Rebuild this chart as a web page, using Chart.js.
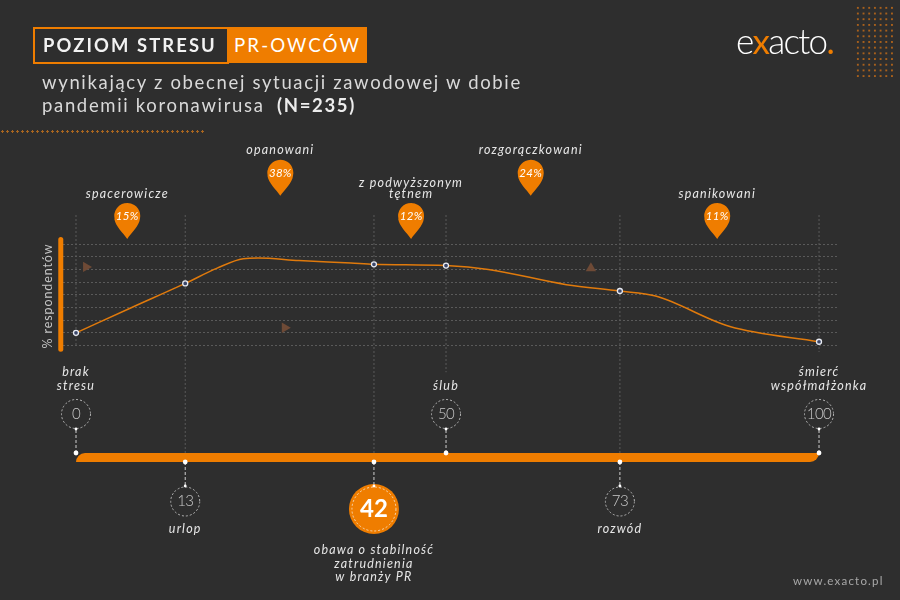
<!DOCTYPE html>
<html lang="pl">
<head>
<meta charset="utf-8">
<title>Poziom stresu PR-owców</title>
<script src="https://cdn.jsdelivr.net/npm/chart.js@4"></script>
<style>
  html, body { margin: 0; padding: 0; background: #2e2e2e; }
  #page { position: relative; width: 900px; height: 600px; overflow: hidden; background: #2e2e2e; font-family: Lato, sans-serif; }
  #chart { position: absolute; left: 0; top: 0; }
  #page div { position: absolute; white-space: nowrap; }
  #title-left { left: 33px; top: 27px; width: 192px; height: 33px; border: 2px solid #ef7d00; color: #f2f2f2; font-size: 18.4px; font-weight: 700; letter-spacing: 2.1px; line-height: 33px; text-indent: 8px; }
  #title-right { left: 227px; top: 27px; width: 140px; height: 36px; background: #ef7d00; color: #fff; font-size: 18.7px; font-weight: 400; letter-spacing: 2.1px; line-height: 37px; text-indent: 7px; }
  .sub { left: 42px; color: #d9d9d9; font-size: 18.5px; letter-spacing: 1.66px; line-height: 24px; }
  #sub1 { top: 70px; }
  #sub2 { top: 93px; }
  #sub2 b { font-weight: 700; color: #ececec; margin-left: 6px; }
  #rule { left: 0; top: 130px; width: 204px; height: 3px; background-image: radial-gradient(circle, #a8651f 1px, transparent 1.2px); background-size: 5px 3px; }
  #dots { left: 855px; top: 5px; width: 40px; height: 74px; background-image: radial-gradient(circle, #a8601c 1px, transparent 1.2px); background-size: 5.7px 5.7px; }
  #logo { left: 736px; top: 18px; color: #fff; font-size: 35px; font-weight: 300; letter-spacing: -1.7px; line-height: 44px; }
  #logo span { color: #ef7d00; font-weight: 400; }
  #www { left: 793px; top: 573px; color: #a8a8a8; font-size: 11.5px; letter-spacing: 1.2px; line-height: 16px; }
</style>
</head>
<body>
<div id="page">
  <canvas id="chart" width="900" height="600"></canvas>
  <div id="title-left">POZIOM STRESU</div>
  <div id="title-right">PR-OWCÓW</div>
  <div class="sub" id="sub1">wynikający z obecnej sytuacji zawodowej w dobie</div>
  <div class="sub" id="sub2">pandemii koronawirusa <b>(N=235)</b></div>
  <div id="rule"></div>
  <div id="dots"></div>
  <div id="logo">e<span>x</span>acto<span>.</span></div>
  <div id="www">www.exacto.pl</div>
</div>
<script>
'use strict'

// krzywa
const curveX = [0, 7.5, 14.7, 19, 22.5, 24.5, 30, 37, 40.1, 49.8, 55.5, 66, 73.2, 78, 88, 100];
const curveY = [10, 30, 49, 61, 68.5, 69, 67, 65, 64, 63, 60, 48, 43, 39, 15, 3];

// punkty na skali stresu (miejsce na osi i wartość z podpisu)
const milestoneX = [0, 14.7, 40.1, 49.8, 73.2, 100];
const milestoneY = [10, 49, 64, 63, 43, 3];
const milestoneValues = ['0', '13', '42', '50', '73', '100'];
const milestoneLabels = [
  ['brak', 'stresu'],
  ['urlop'],
  ['obawa o stabilność', 'zatrudnienia', 'w branży PR'],
  ['ślub'],
  ['rozwód'],
  ['śmierć', 'współmałżonka'],
];
const milestoneAbove = [true, false, false, true, false, true];
const guideEnd = [-1, -84.7, -84.7, -21, -84.7, -5];

// grupy respondentów (pinezki)
const groupNames = [
  ['spacerowicze'],
  ['opanowani'],
  ['z podwyższonym', 'tętnem'],
  ['rozgorączkowani'],
  ['spanikowani'],
];
const groupShare = [15, 38, 12, 24, 11];
const groupX = [6.9, 27.5, 45.1, 61.2, 86.3];
const groupTipY = [84, 118, 84, 118, 84];

const triangleX = [1.35, 28.1, 69.3];
const triangleY = [62, 14, 61];
const triangleRotation = [90, 90, 0];

const gridValues = [0, 10, 20, 30, 40, 50, 60, 70, 80];
const yAxisLabel = '% respondentów';
const orange = '#ef7d00';

const guides = milestoneX.map(function(x, i) {
  return {
    type: 'line',
    data: [{ x: x, y: 102.9 }, { x: x, y: guideEnd[i] }],
    borderColor: '#5a5a5a',
    borderWidth: 1,
    borderDash: [2, 2],
    pointRadius: 0,
    order: 5,
  };
});

// rysuje pasek, pinezki, kółka i podpisy
const extras = {
  id: 'extras',
  afterDatasetsDraw(chart) {
    const c = chart.ctx;
    const xs = chart.scales.x;
    const ys = chart.scales.y;
    const barTop = 453;
    const barBottom = 462;

    function text(str, x, y, font, color, spacing) {
      c.font = font;
      c.fillStyle = color;
      c.letterSpacing = spacing || '0px';
      c.textAlign = 'center';
      c.textBaseline = 'middle';
      c.fillText(str, x, y);
      c.letterSpacing = '0px';
    }

    c.save();

    // pomarańczowy pasek
    c.fillStyle = orange;
    c.beginPath();
    c.roundRect(xs.getPixelForValue(0), barTop, xs.getPixelForValue(100) - xs.getPixelForValue(0), barBottom - barTop, [10, 0, 10, 0]);
    c.fill();

    // etykieta osi y
    c.save();
    c.translate(48, 296);
    c.rotate(-Math.PI / 2);
    text(yAxisLabel, 0, 0, '400 12.5px Lato', '#c4c4c4', '0.9px');
    c.restore();

    // pinezki
    groupX.forEach(function(v, i) {
      const px = xs.getPixelForValue(v);
      const tip = ys.getPixelForValue(groupTipY[i]);
      const cy = tip - 23;
      c.fillStyle = orange;
      c.beginPath();
      c.arc(px, cy, 13, Math.PI * 0.93, Math.PI * 0.07);
      c.bezierCurveTo(px + 12, cy + 10, px + 4, cy + 17, px, tip);
      c.bezierCurveTo(px - 4, cy + 17, px - 12, cy + 10, px - 12.9, cy + 3);
      c.closePath();
      c.fill();
      text(groupShare[i] + '%', px, cy, 'italic 400 11.5px Lato', '#fff', '0.3px');
      const names = groupNames[i];
      names.forEach(function(line, j) {
        const ly = tip - 45.5 - (names.length - 1 - j) * 11;
        text(line, px, ly, 'italic 400 12.5px Lato', '#e6e6e6', '1.2px');
      });
    });

    // kółka i podpisy skali
    milestoneX.forEach(function(v, i) {
      const px = xs.getPixelForValue(v);
      const above = milestoneAbove[i];
      const big = milestoneValues[i] === '42';
      const edge = above ? 453 : 462;
      const end = above ? 429 : 486;
      const radius = big ? 25 : 14.5;
      const cy = above ? 414 : (big ? 509 : 501.5);

      c.strokeStyle = '#cfcfcf';
      c.lineWidth = 1;
      c.setLineDash([3, 2]);
      c.beginPath();
      c.moveTo(px, edge);
      c.lineTo(px, end);
      c.stroke();

      if (big) {
        c.fillStyle = orange;
        c.beginPath();
        c.arc(px, cy, radius, 0, Math.PI * 2);
        c.fill();
      }
      c.strokeStyle = big ? '#f6d7b0' : '#b5b5b5';
      c.setLineDash([2, 2]);
      c.beginPath();
      c.arc(px, cy, big ? 22 : radius, 0, Math.PI * 2);
      c.stroke();
      c.setLineDash([]);

      c.fillStyle = '#fff';
      c.beginPath();
      c.arc(px, edge, 2.4, 0, Math.PI * 2);
      c.fill();
      c.beginPath();
      c.arc(px, end, 1.4, 0, Math.PI * 2);
      c.fill();

      if (big) {
        text(milestoneValues[i], px, cy, '700 24px Lato', '#fff');
      } else {
        text(milestoneValues[i], px, cy, '300 15px Lato', '#c9c9c9', '-0.6px');
      }

      const lines = milestoneLabels[i];
      lines.forEach(function(line, j) {
        let ly;
        if (above) ly = 385.5 - (lines.length - 1 - j) * 14;
        else ly = (big ? 550 : 529) + j * 13.7;
        text(line, px, ly, 'italic 400 12.5px Lato', '#e6e6e6', '1.2px');
      });
    });

    c.restore();
  },
};

new Chart(document.getElementById('chart'), {
  type: 'line',
  data: {
    datasets: [
      {
        data: milestoneX.map(function(x, i) { return { x: x, y: milestoneY[i] }; }),
        showLine: false,
        pointRadius: 2.5,
        pointBorderWidth: 1.3,
        pointBackgroundColor: '#3b4668',
        pointBorderColor: '#e8ebf2',
        order: 1,
      },
      {
        data: curveX.map(function(x, i) { return { x: x, y: curveY[i] }; }),
        borderColor: '#e07a0c',
        borderWidth: 1.5,
        pointRadius: 0,
        cubicInterpolationMode: 'monotone',
        order: 2,
      },
      {
        data: triangleX.map(function(x, i) { return { x: x, y: triangleY[i] }; }),
        showLine: false,
        pointStyle: 'triangle',
        pointRotation: triangleRotation,
        pointRadius: 6,
        pointBorderWidth: 0,
        pointBackgroundColor: '#6e4a36',
        order: 3,
      },
      {
        // pionowy pasek przy osi y
        data: [{ x: -2.05, y: -3 }, { x: -2.05, y: 83.5 }],
        borderColor: orange,
        borderWidth: 5,
        borderCapStyle: 'round',
        pointRadius: 0,
        clip: false,
        order: 4,
      },
    ].concat(guides),
  },
  options: {
    responsive: false,
    animation: false,
    layout: { padding: { left: 63, right: 63, top: 215, bottom: 147 } },
    plugins: { legend: { display: false }, tooltip: { enabled: false } },
    scales: {
      x: {
        type: 'linear',
        display: false,
        min: -1.75,
        max: 102.42,
      },
      y: {
        min: -84.7,
        max: 102.9,
        afterBuildTicks(axis) {
          axis.ticks = gridValues.map(function(v) { return { value: v }; });
        },
        grid: { color: '#5a5a5a', lineWidth: 1, drawTicks: false },
        border: { display: false, dash: [2, 2] },
        ticks: { display: false },
      },
    },
  },
  plugins: [extras],
});
</script>
</body>
</html>
